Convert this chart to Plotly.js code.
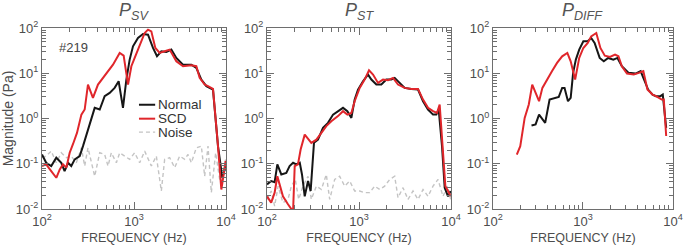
<!DOCTYPE html>
<html>
<head>
<meta charset="utf-8">
<script src="https://cdn.plot.ly/plotly-3.0.1.min.js"></script>
<style>html,body{margin:0;padding:0;background:#fff;}#chart{width:685px;height:248px;}</style>
</head>
<body>
<div id="chart"></div>
<script>
// ---------- P_SV ----------
var svNormalHz = [100,111,126,143,162,176,192,208,227,257,279,308,344,374,424,480,544,616,681,759,826,897,975,1105,1252,1420,1609,1778,1982,2246,2546,2885,3409,4200,4759,5394,6113,7223,8185,9123,9917];
var svNormalPa = [0.16,0.105,0.089,0.136,0.105,0.069,0.105,0.089,0.125,0.148,0.245,0.48,0.95,1.72,1.58,3.11,3.68,4.75,6.66,1.72,7.25,20.0,39.4,60.2,73.9,71.3,36.2,23.7,30.6,29.6,33.3,21.8,15.5,15.5,13.1,7.25,5.17,4.36,0.245,0.049,0.089];
var svScdHz = [100,111,126,143,156,169,184,200,217,240,268,291,316,358,406,460,522,591,699,772,861,936,1017,1152,1306,1420,1543,1706,1901,2154,2442,2885,3409,4200,4759,5173,5863,6374,7223,8185,8899,9917];
var svScdPa = [0.089,0.097,0.069,0.049,0.075,0.097,0.082,0.175,0.27,0.48,1.22,1.58,5.62,2.86,5.62,7.89,11.1,15.5,28.1,24.5,5.62,14.3,21.8,42.9,77.6,91.9,84.4,36.2,28.1,30.6,33.3,18.4,14.3,15.0,14.3,7.89,5.62,5.17,4.51,0.245,0.027,0.115];
var svNoiseHz = [100,111,126,143,162,184,208,236,268,291,316,344,374,424,480,522,567,643,699,792,897,1017,1152,1306,1543,1749,1982,2154,2442,2767,3136,3554,3864,4200,4759,5394,5863,6374,6928,7722,8536,9277,9917];
var svNoisePa = [0.136,0.148,0.19,0.105,0.175,0.136,0.148,0.105,0.225,0.089,0.225,0.105,0.053,0.175,0.16,0.089,0.175,0.105,0.175,0.148,0.125,0.175,0.105,0.19,0.089,0.148,0.025,0.125,0.136,0.082,0.148,0.125,0.16,0.105,0.225,0.245,0.053,0.245,0.023,0.175,0.045,0.063,0.125];

// ---------- P_ST ----------
var stNormalHz = [100,111,121,129.5,143,162,176,192,208,227,240,257,279,298,324,358,406,460,522,591,670,747,826,897,975,1105,1252,1362,1543,1749,1982,2246,2442,2767,3136,3706,4379,4963,5623,6374,6928,7343,7983,8536,9277,9917];
var stNormalPa = [0.035,0.0415,0.039,0.097,0.058,0.063,0.089,0.105,0.097,0.105,0.058,0.019,0.0415,0.025,0.29,0.34,0.62,0.80,1.22,1.45,1.72,1.45,1.03,2.62,4.36,6.66,9.35,7.25,5.62,5.62,7.25,7.25,7.89,6.12,4.75,4.51,4.36,2.41,1.58,1.22,1.22,1.58,0.245,0.0296,0.019,0.025];
var stScdHz = [100,111,121,129.5,137,149,169,192,200,217,232,257,284,303,344,390,441,500,591,670,747,826,897,1017,1152,1284,1420,1609,1823,2066,2342,2654,3136,3706,4379,4963,5623,6374,7044,7530,8185,8679,9277,9917];
var stScdPa = [0.019,0.0138,0.023,0.053,0.035,0.019,0.0127,0.0088,0.089,0.097,0.207,0.44,0.34,0.29,0.34,0.48,0.68,0.87,1.13,1.45,1.22,1.33,2.41,4.75,7.25,11.6,9.35,6.12,7.25,7.0,7.89,5.62,4.75,4.51,4.51,2.62,1.72,1.45,1.33,2.04,0.207,0.032,0.025,0.019];
var stNoiseHz = [100,111,121,132,149,169,184,203,221,246,279,303,344,390,441,480,544,616,699,792,897,1017,1152,1306,1480,1678,1901,2154,2442,2654,3008,3409,3864,4379,4963,5623,6374,7223,8185,9123,9917];
var stNoisePa = [0.0163,0.025,0.0116,0.032,0.0138,0.0163,0.032,0.045,0.0163,0.032,0.053,0.0163,0.032,0.027,0.058,0.0163,0.045,0.053,0.032,0.0415,0.025,0.025,0.023,0.023,0.032,0.027,0.032,0.045,0.053,0.0178,0.0296,0.0163,0.025,0.0163,0.027,0.019,0.032,0.045,0.019,0.032,0.0163];

// ---------- P_DIFF ----------
var diffNormalHz = [268,297.5,325,354,380,425.5,472,538,587,624,681,730,777,833,908,1009,1130,1233,1346,1533,1702,1907,2173,2414,2703,3218,3831,4367,4849,5290,5927,6466,7242,7697,8400];
var diffNormalPa = [0.70,0.74,1.22,0.98,0.80,2.62,2.76,3.01,4.75,4.75,2.41,2.86,10.2,20.0,33.3,50.8,50.8,60.2,46.7,21.8,18.4,21.8,20.0,21.8,14.3,10.2,9.83,11.1,6.66,4.36,3.38,3.11,3.11,3.38,0.62];
var diffScdHz = [184,201,225,250,273,292,325,354,397,452,515,587,670,730,818,908,1009,1130,1233,1405,1561,1748,1992,2270,2477,2703,3081,3667,4181,4682,5197,5927,6466,7499,7903,8400];
var diffScdPa = [0.16,0.245,1.03,2.04,5.62,4.01,2.41,4.75,7.25,11.1,16.9,23.7,28.1,18.4,7.25,21.8,36.2,46.7,65.5,77.6,36.2,24.5,22.9,25.8,23.7,14.3,9.83,9.35,10.2,11.1,4.36,3.38,3.11,2.62,2.62,0.41];

var panelTitles = ['<i>P<sub>SV</sub></i>', '<i>P<sub>ST</sub></i>', '<i>P<sub>DIFF</sub></i>'];
var seriesNames = ['Normal', 'SCD', 'Noise'];
var caseLabel = '#219';
var xTitle = 'FREQUENCY (Hz)';
var yTitle = 'Magnitude (Pa)';
var xTickVals = [100, 1000, 10000];
var xTickText = ['10<sup>2</sup>', '10<sup>3</sup>', '10<sup>4</sup>'];
var yTickVals = [0.01, 0.1, 1, 10, 100];
var yTickText = ['10<sup>-2</sup>', '10<sup>-1</sup>', '10<sup>0</sup>', '10<sup>1</sup>', '10<sup>2</sup>'];

var cBlack = '#161616', cRed = '#e0262b', cNoise = '#c4c4c4';
var frame = '#6e6e6e', txt = '#4d4d4d';
var FONT = 'Liberation Sans, Arial, Helvetica, sans-serif';

function line(x, y, color, name, xa, ya, noise) {
  return {x: x, y: y, type: 'scatter', mode: 'lines', name: name, xaxis: xa, yaxis: ya,
    showlegend: false,
    line: noise ? {color: color, width: 1.4, dash: '4px,3px'} : {color: color, width: 2}};
}
var data = [
  line(svNoiseHz, svNoisePa, cNoise, seriesNames[2], 'x', 'y', true),
  line(svNormalHz, svNormalPa, cBlack, seriesNames[0], 'x', 'y'),
  line(svScdHz, svScdPa, cRed, seriesNames[1], 'x', 'y'),
  line(stNoiseHz, stNoisePa, cNoise, seriesNames[2], 'x2', 'y2', true),
  line(stNormalHz, stNormalPa, cBlack, seriesNames[0], 'x2', 'y2'),
  line(stScdHz, stScdPa, cRed, seriesNames[1], 'x2', 'y2'),
  line(diffNormalHz, diffNormalPa, cBlack, seriesNames[0], 'x3', 'y3'),
  line(diffScdHz, diffScdPa, cRed, seriesNames[1], 'x3', 'y3')
];

var common = {showgrid: false, zeroline: false,
  showline: true, linecolor: frame, linewidth: 1, mirror: 'ticks',
  ticks: 'inside', ticklen: 7, tickwidth: 1, tickcolor: frame,
  tickfont: {family: FONT, size: 13, color: txt}};

function xax(dom, anchor) {
  return Object.assign({}, common, {type: 'log', range: [2, 4], domain: dom, anchor: anchor,
    tickmode: 'array', tickvals: xTickVals, ticktext: xTickText,
    minor: {ticks: 'inside', ticklen: 4, tickwidth: 1, tickcolor: frame, dtick: 'D1', showgrid: false},
    title: {text: xTitle, font: {family: FONT, size: 12.5, color: txt}, standoff: 5}});
}
function yax(anchor, withTitle) {
  var a = Object.assign({}, common, {type: 'log', range: [-2, 2], domain: [0, 1], anchor: anchor,
    tickmode: 'array', tickvals: yTickVals, ticktext: yTickText,
    minor: {ticks: 'inside', ticklen: 4, tickwidth: 1, tickcolor: frame, dtick: 'D1', showgrid: false}});
  if (withTitle) a.title = {text: yTitle, font: {family: FONT, size: 14, color: txt}, standoff: 2};
  return a;
}

var annotations = [];
['x', 'x2', 'x3'].forEach(function (xa, i) {
  annotations.push({xref: xa + ' domain', yref: 'paper', x: 0.5, y: 1.09, xanchor: 'center', yanchor: 'middle',
    text: panelTitles[i], showarrow: false, font: {family: FONT, size: 18, color: '#555'}});
});
annotations.push({xref: 'x domain', yref: 'y domain', x: 0.08, y: 0.89, xanchor: 'left', yanchor: 'middle',
  text: caseLabel, showarrow: false, font: {family: FONT, size: 13, color: '#444'}});

// manual legend (panel 1)
var legY = [0.576, 0.499, 0.425];
var legColors = [cBlack, cRed, cNoise];
var shapes = [];
for (var k = 0; k < 3; k++) {
  shapes.push({type: 'line', xref: 'x domain', yref: 'y domain', x0: 0.527, x1: 0.615, y0: legY[k], y1: legY[k],
    line: {color: legColors[k], width: k === 2 ? 1.4 : 2, dash: k === 2 ? '4px,3px' : 'solid'}});
  annotations.push({xref: 'x domain', yref: 'y domain', x: 0.62, y: legY[k], xanchor: 'left', yanchor: 'middle',
    text: seriesNames[k], showarrow: false, font: {family: FONT, size: 13.5, color: '#333'}});
}

var layout = {
  width: 685, height: 248,
  margin: {l: 42, r: 12, t: 28, b: 39},
  paper_bgcolor: '#fff', plot_bgcolor: '#fff',
  showlegend: false,
  font: {family: FONT, color: txt},
  xaxis: xax([0, 0.2916], 'y'),
  xaxis2: xax([0.3566, 0.6482], 'y2'),
  xaxis3: xax([0.7147, 1.0], 'y3'),
  yaxis: yax('x', true),
  yaxis2: yax('x2', false),
  yaxis3: yax('x3', false),
  annotations: annotations,
  shapes: shapes
};

Plotly.newPlot('chart', data, layout, {staticPlot: true, displayModeBar: false});
</script>
</body>
</html>
